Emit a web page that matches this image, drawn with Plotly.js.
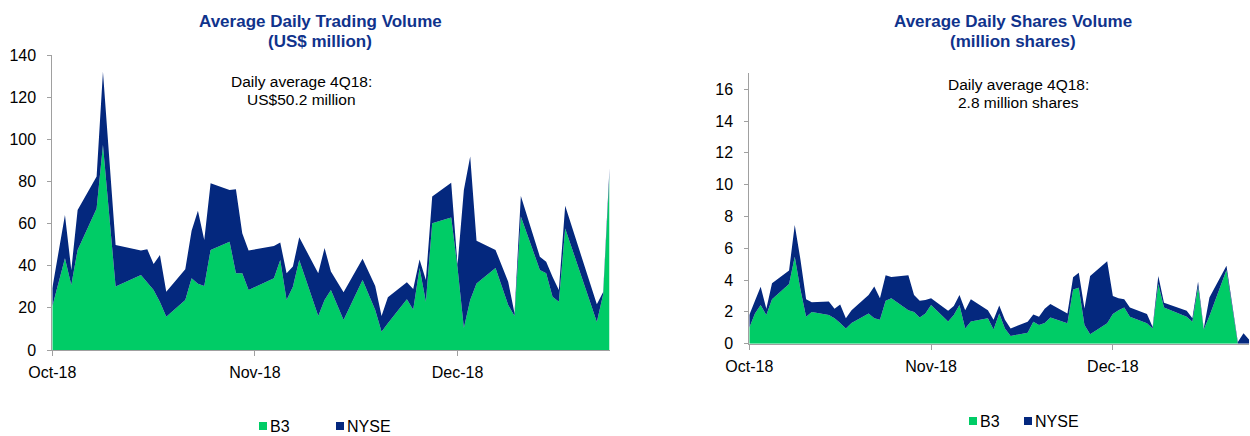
<!DOCTYPE html>
<html><head><meta charset="utf-8">
<script src="https://cdn.plot.ly/plotly-3.0.1.min.js"></script>
<style>html,body{margin:0;padding:0;background:#fff;overflow:hidden}#chart{width:1250px;height:436px}</style>
</head><body><div id="chart"></div>
<script>
// ---- Data: Average Daily Trading Volume (US$ million) ----
const tradingDates = ['2018-10-01','2018-10-03','2018-10-04','2018-10-05','2018-10-08','2018-10-09','2018-10-11','2018-10-15','2018-10-16','2018-10-17','2018-10-18','2018-10-19','2018-10-22','2018-10-23','2018-10-24','2018-10-25','2018-10-26','2018-10-29','2018-10-30','2018-10-31',
  '2018-11-01','2018-11-05','2018-11-06','2018-11-07','2018-11-08','2018-11-09','2018-11-12','2018-11-13','2018-11-14','2018-11-16','2018-11-19','2018-11-21','2018-11-22','2018-11-23','2018-11-26','2018-11-27','2018-11-28','2018-11-29','2018-11-30',
  '2018-12-03','2018-12-04','2018-12-05','2018-12-06','2018-12-07','2018-12-10','2018-12-12','2018-12-13','2018-12-14','2018-12-17','2018-12-18','2018-12-19','2018-12-20','2018-12-21','2018-12-26','2018-12-27','2018-12-28'];
const tradingB3 = [20.6,43.5,30.9,47.5,67.2,97.3,30.1,35.6,32,28.5,22.8,15.8,23.7,34,31.5,30.4,47.5,51.4,36.4,36.4,
  28.5,34,42.7,23.7,30,42.7,16.1,23.7,28.5,14.2,33.2,19,8.7,12.7,24.1,19.1,38.9,22.9,60.1,
  62.9,39,10.4,23.7,31.6,38.9,21.4,16.1,63.3,38,36.4,25.3,22.9,57.7,13.3,26.5,83];
const tradingNYSE = [8.7,20.6,7.1,19,15.1,34.7,19.7,11.6,15.8,12.3,22.3,11.9,14.6,22.6,34.6,21.8,31.6,24.5,39.9,19,
  18.7,15.4,8.3,12.7,9.6,10.8,20.3,24.7,8.8,13.2,10.1,11.4,7.4,12.3,8,9.9,4.1,10.3,12.7,
  16.5,1.3,65.5,68.1,20.3,8.6,11,1.3,9.8,6.3,5.5,9.5,5.6,10.7,8.4,1,3.4];

// ---- Data: Average Daily Shares Volume (million shares) ----
const sharesDates = ['2018-10-01','2018-10-02','2018-10-03','2018-10-04','2018-10-05','2018-10-08','2018-10-09','2018-10-10','2018-10-11','2018-10-12','2018-10-15','2018-10-16','2018-10-17','2018-10-18','2018-10-19','2018-10-22','2018-10-23','2018-10-24','2018-10-25','2018-10-26','2018-10-29','2018-10-30','2018-10-31',
  '2018-11-01','2018-11-02','2018-11-05','2018-11-06','2018-11-07','2018-11-08','2018-11-09','2018-11-12','2018-11-13','2018-11-14','2018-11-15','2018-11-16','2018-11-19','2018-11-20','2018-11-21','2018-11-22','2018-11-23','2018-11-26','2018-11-27','2018-11-28','2018-11-29','2018-11-30',
  '2018-12-03','2018-12-04','2018-12-05','2018-12-06','2018-12-07','2018-12-10','2018-12-11','2018-12-12','2018-12-13','2018-12-17','2018-12-18','2018-12-19','2018-12-20','2018-12-21','2018-12-24','2018-12-26','2018-12-27','2018-12-28'];
const sharesB3 = [1.0,1.9,2.43,1.8,2.8,3.75,5.47,3.4,1.7,2.0,1.8,1.6,1.3,0.96,1.3,1.9,1.6,1.5,2.7,2.85,2.1,2.0,1.65,
  1.9,2.43,1.4,1.8,2.43,0.96,1.4,1.6,0.9,1.9,0.96,0.48,0.69,1.38,1.17,1.3,1.65,1.28,3.41,3.52,1.17,0.6,
  1.28,1.86,2.1,2.28,1.7,1.28,0.95,3.75,2.28,1.7,1.38,3.58,0.9,1.74,4.63,0,0,0];
const sharesNYSE = [0.8,0.8,1.15,0.4,1.0,0.85,2.0,1.9,1.1,0.6,0.86,0.6,1.17,0.64,0.8,1.16,2.0,1.35,1.6,1.35,2.2,1.06,1.05,
  0.85,0.42,0.67,0.57,0.63,1.14,1.4,0.5,0.6,0.5,0.54,0.48,0.69,0.46,0.53,0.9,0.85,0.62,0.76,0.94,1.05,3.65,
  3.91,1.14,0.75,0.52,0.58,0.58,0.1,0.5,0.3,0.37,0.22,0.32,0.06,1.16,0.27,0.1,0.65,0.25];

const tickDates = ['2018-10-01','2018-11-02','2018-12-04'];
const tickLabels = ['Oct-18','Nov-18','Dec-18'];
const seriesNames = ['B3','NYSE'];
const titles = [['Average Daily Trading Volume','(US$ million)'],['Average Daily Shares Volume','(million shares)']];
const notes = [['Daily average 4Q18:','US$50.2 million'],['Daily average 4Q18:','2.8 million shares']];

// ---- Styling / layout ----
const W = 1250, H = 436;
const GREEN = '#00CC66', NAVY = '#04287E', TITLE = '#10338C', AXIS = '#A0A0A0';
const FONT = 'Liberation Sans, Arial, sans-serif';
const fx = p => p / W;
const fy = p => 1 - p / H;

function area(x, y, name, color, stack, xa, ya) {
  return {type:'scatter', mode:'none', x:x, y:y, name:name, stackgroup:stack,
    fill:'tonexty', fillcolor:color, xaxis:xa, yaxis:ya, showlegend:false, hoverinfo:'skip'};
}
const traces = [
  area(tradingDates, tradingB3, seriesNames[0], GREEN, 'left', 'x', 'y'),
  area(tradingDates, tradingNYSE, seriesNames[1], NAVY, 'left', 'x', 'y'),
  area(sharesDates, sharesB3, seriesNames[0], GREEN, 'right', 'x2', 'y2'),
  area(sharesDates, sharesNYSE, seriesNames[1], NAVY, 'right', 'x2', 'y2')
];

const xCommon = {type:'date', tickmode:'array', tickvals:tickDates, ticktext:tickLabels,
  showline:true, linecolor:AXIS, linewidth:1, ticks:'outside', ticklen:5, tickcolor:AXIS,
  showgrid:false, zeroline:false, tickfont:{family:FONT, size:16, color:'#000'}, ticklabelstandoff:3, fixedrange:true};
const yCommon = {showline:true, linecolor:AXIS, linewidth:1, ticks:'outside', ticklen:4, tickcolor:AXIS,
  showgrid:false, zeroline:false, tickfont:{family:FONT, size:16, color:'#000'}, ticklabelstandoff:8, fixedrange:true};

const ann = [];
function txt(t, x, y, size, opts) {
  ann.push(Object.assign({text:t, x:fx(x), y:fy(y), xref:'paper', yref:'paper', showarrow:false,
    xanchor:'center', yanchor:'middle', font:{family:FONT, size:size, color:'#000'}}, opts||{}));
}
// titles
txt('<b>'+titles[0][0]+'</b>', 321, 21.5, 17, {font:{family:FONT,size:17,color:TITLE}});
txt('<b>'+titles[0][1]+'</b>', 320, 42, 17, {font:{family:FONT,size:17,color:TITLE}});
txt('<b>'+titles[1][0]+'</b>', 1013, 21.5, 17, {font:{family:FONT,size:17,color:TITLE}});
txt('<b>'+titles[1][1]+'</b>', 1013, 42, 17, {font:{family:FONT,size:17,color:TITLE}});
// notes
txt(notes[0][0], 301, 82, 15.5);
txt(notes[0][1], 301.5, 100, 15.5);
txt(notes[1][0], 1018.5, 84.5, 15.5);
txt(notes[1][1], 1018.5, 102, 15.5);

// legends (drawn as swatches + text)
const shapes = [];
function legendItem(x, yc, color, label) {
  shapes.push({type:'rect', xref:'paper', yref:'paper', x0:fx(x), x1:fx(x+8), y0:fy(yc+4), y1:fy(yc-4),
    fillcolor:color, line:{width:0}});
  txt(label, x+9, yc, 16, {xanchor:'left'});
}
legendItem(259, 426, GREEN, seriesNames[0]);
legendItem(336, 426, NAVY, seriesNames[1]);
legendItem(969, 421, GREEN, seriesNames[0]);
legendItem(1024, 421, NAVY, seriesNames[1]);

const layout = {
  width:W, height:H, margin:{l:0,r:0,t:0,b:0}, paper_bgcolor:'#fff', plot_bgcolor:'rgba(0,0,0,0)',
  showlegend:false, hovermode:false,
  xaxis:Object.assign({}, xCommon, {domain:[fx(52.3), fx(609.5)], range:['2018-10-01','2018-12-28'], anchor:'y'}),
  yaxis:Object.assign({}, yCommon, {domain:[fy(350), fy(55)], range:[0,140], dtick:20, tick0:0, anchor:'x'}),
  xaxis2:Object.assign({}, xCommon, {domain:[fx(749.3), fx(1249.2)], range:['2018-10-01','2018-12-28'], anchor:'y2'}),
  yaxis2:Object.assign({}, yCommon, {domain:[fy(343.7), fy(73.3)], range:[0,17], dtick:2, tick0:0, anchor:'x2'}),
  annotations:ann, shapes:shapes
};
Plotly.newPlot('chart', traces, layout, {staticPlot:true, displayModeBar:false});
</script>
</body></html>
